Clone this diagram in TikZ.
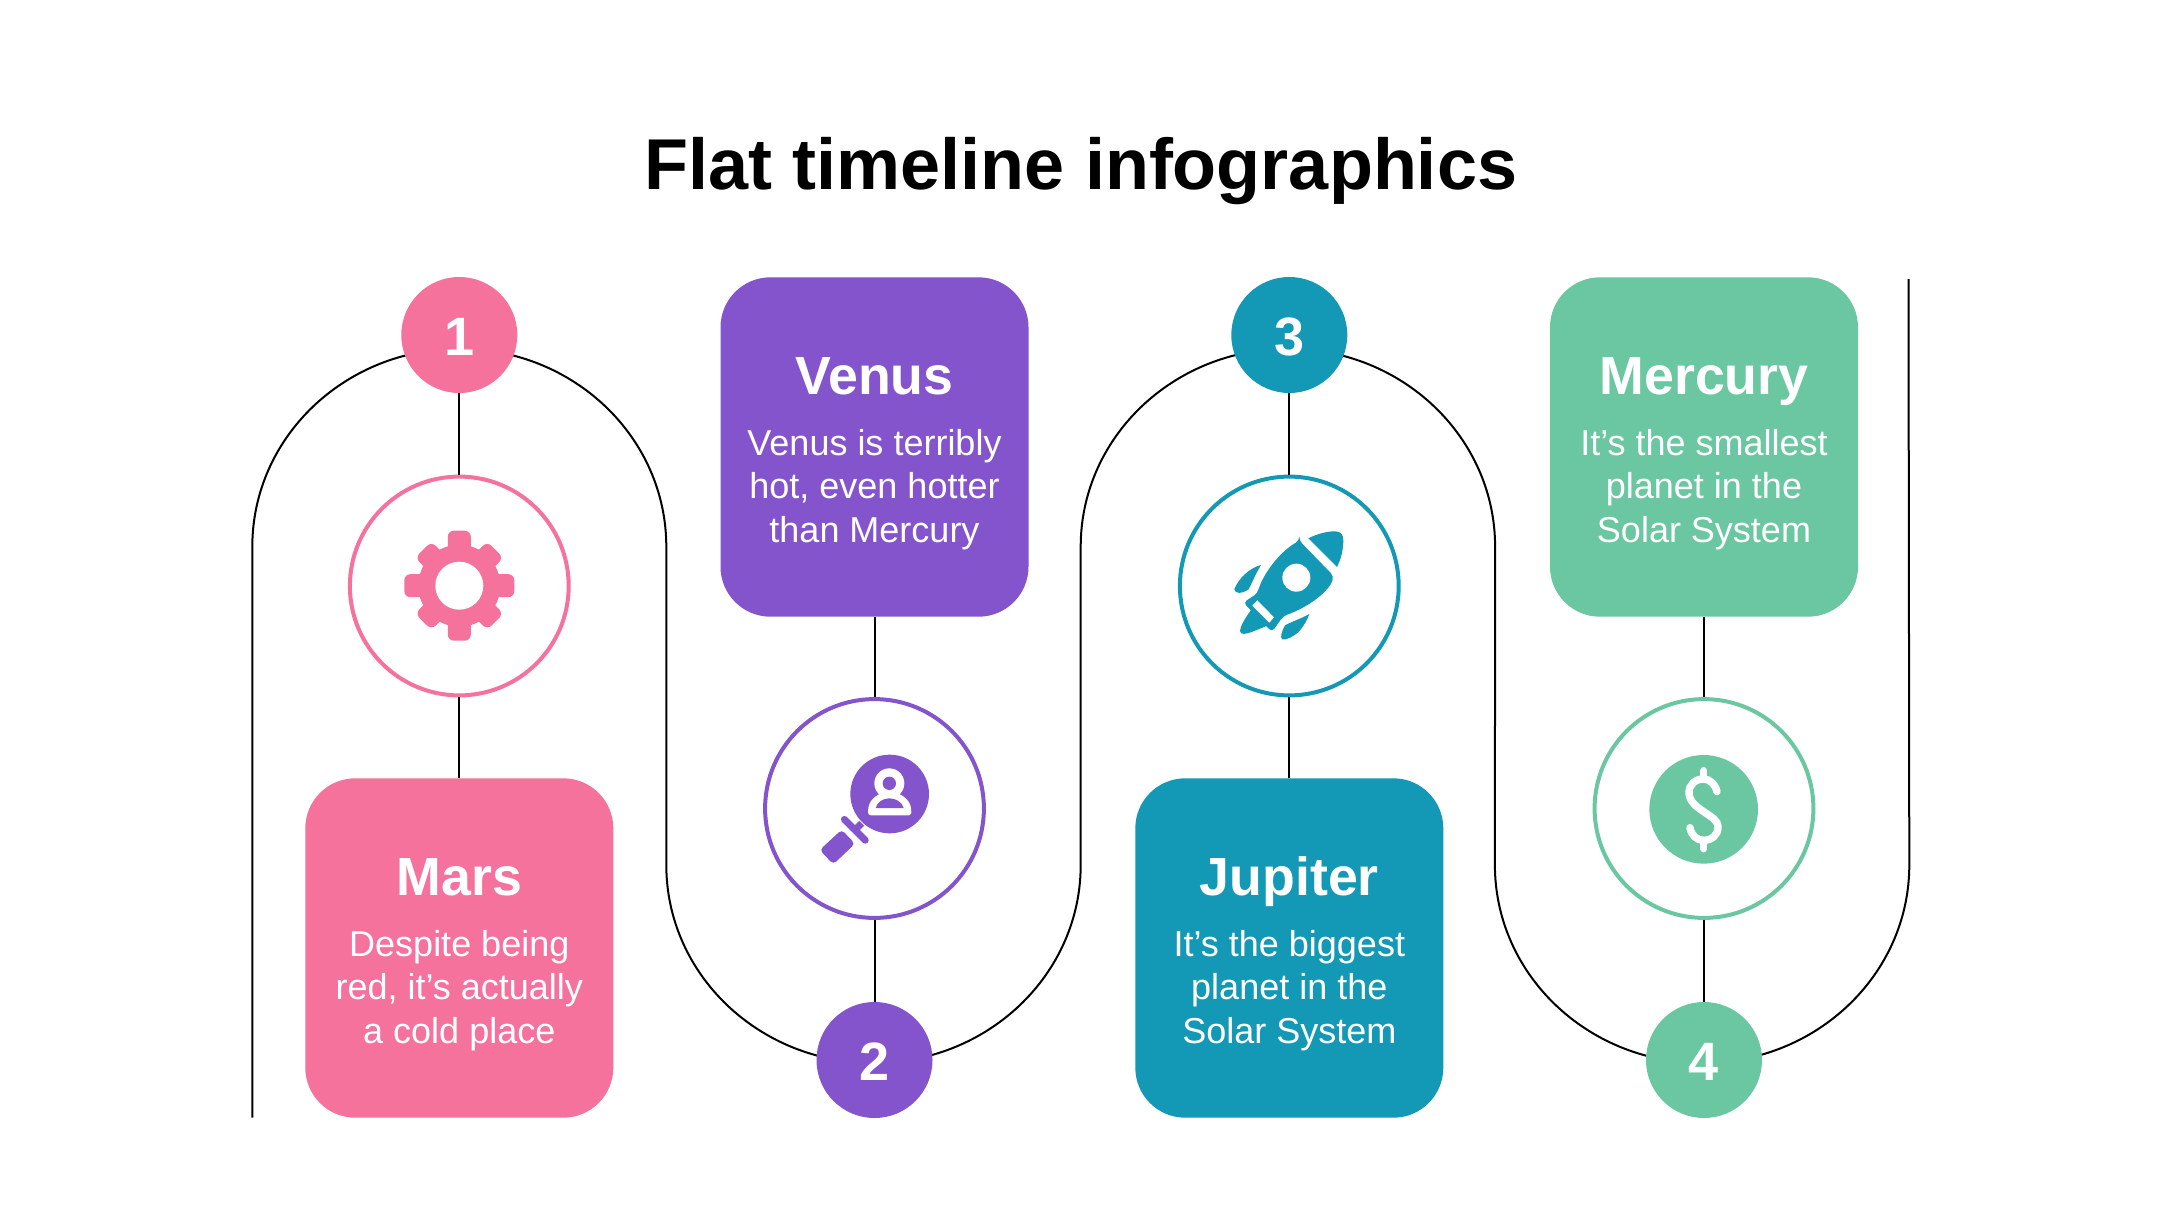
\documentclass[tikz,border=0pt]{standalone}
\usepackage{fontspec}
\setmainfont{Liberation Sans}
\usetikzlibrary{backgrounds}
\definecolor{cpink}{HTML}{F4729C}
\definecolor{cpurple}{HTML}{8454CC}
\definecolor{cteal}{HTML}{1399B6}
\definecolor{cgreen}{HTML}{6BC7A2}
\newcommand{\numtext}[1]{\raisebox{-10pt}[0pt][0pt]{#1}}
\tikzset{
  numdisc/.style={circle,fill=#1,minimum size=58pt,inner sep=0pt,text=white,font=\fontsize{27}{30}\selectfont\bfseries},
  ring/.style={circle,draw=#1,line width=2pt,fill=white,minimum size=109.4pt,inner sep=0pt},
  cardbox/.style={rectangle,rounded corners=25pt,fill=#1,minimum width=154pt,minimum height=169.7pt,inner sep=0pt},
  cardhead/.style={text=white,inner sep=0pt,anchor=base,font=\fontsize{26.85}{30}\selectfont\bfseries},
  cardtext/.style={text=white,inner sep=0pt,anchor=base,align=center,font=\fontsize{18}{21.6}\selectfont},
  wire/.style={black,line width=1pt},
  snake/.style={black,line width=1pt}
}
\begin{document}
\begin{tikzpicture}[x=0.5pt,y=-0.5pt]
\useasboundingbox (0,0) rectangle (2160,1215);
\node[inner sep=0pt,anchor=base,font=\fontsize{36}{40}\selectfont\bfseries] (title) at (1081,189.5) {Flat timeline infographics};

% nodes
\node[numdisc=cpink] (n1) at (459.3,335) {\numtext{1}};
\node[numdisc=cpurple] (n2) at (874.5,1060) {\numtext{2}};
\node[numdisc=cteal] (n3) at (1289.3,335) {\numtext{3}};
\node[numdisc=cgreen] (n4) at (1704,1060) {\numtext{4}};
\node[ring=cpink] (r1) at (459.3,586) {};
\node[ring=cpurple] (r2) at (874.5,808.5) {};
\node[ring=cteal] (r3) at (1289.3,586) {};
\node[ring=cgreen] (r4) at (1704,808.5) {};
\node[cardbox=cpink] (b1) at (459.3,948) {};
\node[cardbox=cpurple] (b2) at (874.5,447) {};
\node[cardbox=cteal] (b3) at (1289.3,948) {};
\node[cardbox=cgreen] (b4) at (1704,447) {};

% card texts
\node[cardhead] (h1) at (459.3,895) {Mars};
\node[cardtext] (t1) at (459.3,1043) {Despite being\\red, it’s actually\\a cold place};
\node[cardhead] (h2) at (874.5,394) {Venus};
\node[cardtext] (t2) at (874.5,542) {Venus is terribly\\hot, even hotter\\than Mercury};
\node[cardhead] (h3) at (1289.3,895) {Jupiter};
\node[cardtext] (t3) at (1289.3,1043) {It’s the biggest\\planet in the\\Solar System};
\node[cardhead] (h4) at (1704,394) {Mercury};
\node[cardtext] (t4) at (1704,542) {It’s the smallest\\planet in the\\Solar System};

% connectors
\begin{pgfonlayer}{background}
\fill[white] (0,0) rectangle (2160,1215);
\coordinate (snakeA) at (252.3,1117.5);
\coordinate (snakeZ) at (1908.5,279);
\draw[snake] (snakeA) -- (252.3,546.7)
  arc[start angle=180,end angle=0,x radius=103.5pt,y radius=99pt]
  -- (666.3,865)
  arc[start angle=180,end angle=360,x radius=103.6pt,y radius=99pt]
  -- (1080.7,546.7)
  arc[start angle=180,end angle=0,x radius=103.6pt,y radius=99pt]
  -- (1494.9,865)
  arc[start angle=180,end angle=360,x radius=103.6pt,y radius=99pt]
  -- (snakeZ);
\end{pgfonlayer}
\draw[wire] (n1.south) -- (r1.north);
\draw[wire] (r1.south) -- (b1.north);
\draw[wire] (b2.south) -- (r2.north);
\draw[wire] (r2.south) -- (n2.north);
\draw[wire] (n3.south) -- (r3.north);
\draw[wire] (r3.south) -- (b3.north);
\draw[wire] (b4.south) -- (r4.north);
\draw[wire] (r4.south) -- (n4.north);

% gear
\begin{scope}[shift={(459.3,585.7)}]
  \fill[cpink] (0,0) circle[radius=41];
  \foreach \a in {0,90,180,270}
    \fill[cpink,rounded corners=3pt,rotate=\a] (-11.5,-30) rectangle (11.5,-55);
  \foreach \a in {45,135,225,315}
    \fill[cpink,rounded corners=3pt,rotate=\a] (-11.5,-30) rectangle (11.5,-51);
  \fill[white] (0,0) circle[radius=24];
\end{scope}

% magnifier with person
\begin{scope}[shift={(760,695)},scale=1/3]
  \fill[cpurple] (389,297) circle[radius=118];
  \draw[cpurple,line width=3.4pt] (305,385) -- (285,405);
  \draw[cpurple,line width=3.4pt,line cap=round] (253,373) -- (316,436);
  \fill[cpurple,rounded corners=2pt] (179,465) -- (245,404) -- (285,446) -- (220,508) -- cycle;
  \fill[white] (388,265) circle[radius=45];
  \fill[cpurple] (388,265) circle[radius=20];
  \fill[white,rounded corners=1.5pt] (324,361) -- (324,345) .. controls (330,310) and (360,292) .. (388,292) .. controls (416,292) and (448,310) .. (454,345) -- (454,361) -- cycle;
  \fill[cpurple] (347,339) .. controls (352,320) and (370,310) .. (388,310) .. controls (406,310) and (426,320) .. (431,339) -- cycle;
\end{scope}

% rocket
\begin{scope}[shift={(1170,470)},scale=1/3]
  \fill[cteal] (415,205) .. controls (445,190) and (475,183) .. (497,184) .. controls (512,185) and (521,195) .. (520,212) .. controls (520,240) and (512,270) .. (501,291) -- cycle;
  \fill[cteal] (243,420) .. controls (225,445) and (210,470) .. (210,483) .. controls (212,495) and (225,493) .. (245,486) -- (290,468) -- cycle;
  \fill[cteal,rounded corners=2pt] (388,212) -- (491,318) .. controls (480,360) and (420,410) .. (340,438) -- (306,486) -- (220,398) -- (262,370) .. controls (280,310) and (330,245) .. (388,212) -- cycle;
  \fill[white] (262,391) -- (312,442) -- (298,458) -- (247,407) -- cycle;
  \fill[white] (379,323) circle[radius=42];
  \fill[cteal] (273,285) .. controls (240,293) and (205,325) .. (193,358) .. controls (195,372) and (215,372) .. (236,358) .. controls (245,340) and (258,310) .. (273,285) -- cycle;
  \fill[cteal] (418,432) .. controls (395,445) and (365,455) .. (345,466) .. controls (335,485) and (330,500) .. (336,508) .. controls (350,512) and (370,498) .. (385,487) .. controls (400,470) and (412,450) .. (418,432) -- cycle;
\end{scope}

% dollar coin
\begin{scope}[shift={(1590,695)},scale=1/3]
  \fill[cgreen] (341,343) circle[radius=163];
  \draw[white,line width=3.7pt,line cap=round] (381,290) .. controls (376,268) and (360,252) .. (340,252) .. controls (315,252) and (297,270) .. (297,292) .. controls (297,320) and (320,335) .. (341,350) .. controls (365,367) and (384,375) .. (384,397) .. controls (384,420) and (365,436) .. (341,436) .. controls (320,436) and (303,420) .. (300,398);
  \draw[white,line width=3.7pt,line cap=round] (341,227) -- (341,252);
  \draw[white,line width=3.7pt,line cap=round] (341,436) -- (341,461);
\end{scope}
\end{tikzpicture}
\end{document}
